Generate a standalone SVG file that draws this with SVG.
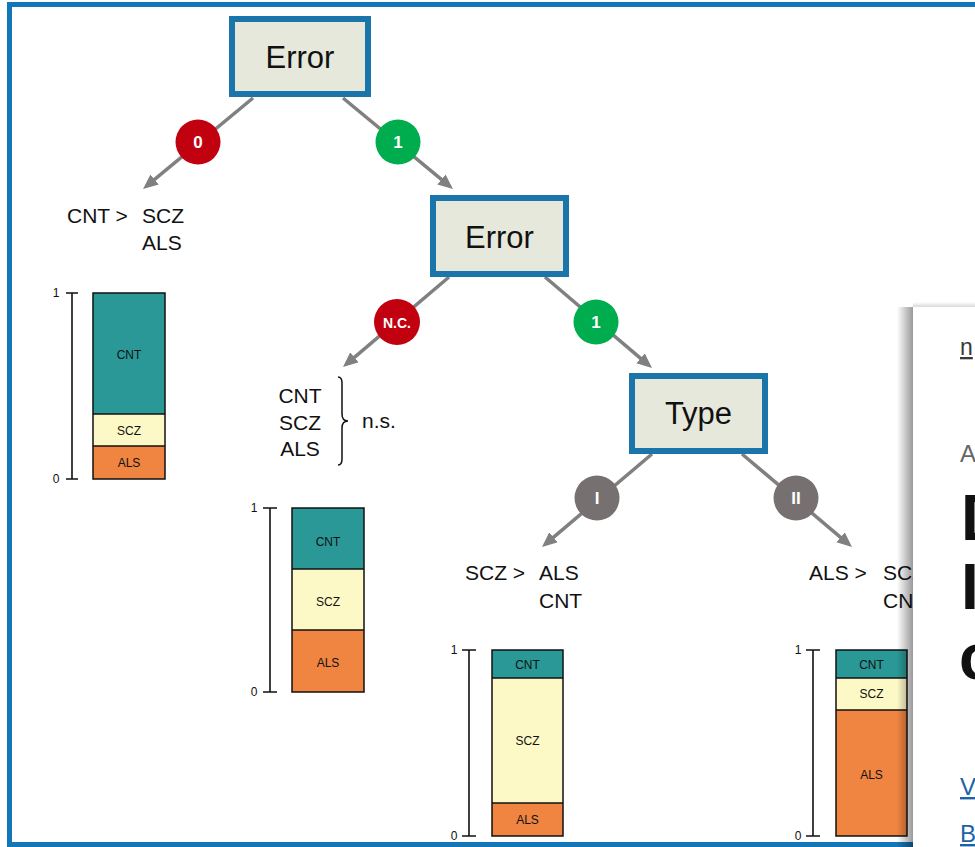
<svg xmlns="http://www.w3.org/2000/svg" width="975" height="847" viewBox="0 0 975 847">
<defs>
<marker id="arr" markerUnits="userSpaceOnUse" markerWidth="16" markerHeight="14" refX="7" refY="6.5" orient="auto">
<path d="M0,0 L15,6.5 L0,13 z" fill="#808080"/>
</marker>
<linearGradient id="shadow" x1="0" y1="0" x2="1" y2="0">
<stop offset="0" stop-color="#000" stop-opacity="0"/>
<stop offset="1" stop-color="#000" stop-opacity="0.4"/>
</linearGradient>
<linearGradient id="shadowTop" x1="0" y1="0" x2="0" y2="1">
<stop offset="0" stop-color="#000" stop-opacity="0"/>
<stop offset="1" stop-color="#000" stop-opacity="0.15"/>
</linearGradient>
</defs>
<style>
text{font-family:"Liberation Sans",Arial,sans-serif;}
.box{fill:#e6e8dc;stroke:#1a76aa;stroke-width:6;}
.boxt{font-size:31px;fill:#111;text-anchor:middle;}
.conn{stroke:#808080;stroke-width:3.5;fill:none;marker-end:url(#arr);}
.badge-t{font-size:17px;font-weight:bold;fill:#fff;text-anchor:middle;}
.leaf{font-size:21px;fill:#111;}
.seg{stroke:#111;stroke-width:1.5;}
.cnt{fill:#2a9896;}
.scz{fill:#fdf9c6;}
.als{fill:#f08441;}
.bl{font-size:12px;fill:#111;text-anchor:middle;}
.ax{stroke:#111;stroke-width:1.6;fill:none;}
.axl{font-size:12px;fill:#111;text-anchor:middle;}
</style>
<rect width="975" height="847" fill="#fff"/>
<rect x="9.5" y="4.5" width="990" height="840" fill="none" stroke="#1277b8" stroke-width="5"/>

<g id="connectors">
<line class="conn" x1="253" y1="98" x2="149.2" y2="183.9"/>
<line class="conn" x1="343" y1="98" x2="446.8" y2="183.9"/>
<line class="conn" x1="449" y1="277" x2="349.1" y2="361.8"/>
<line class="conn" x1="545" y1="277" x2="645.9" y2="362.8"/>
<line class="conn" x1="652" y1="454" x2="548.1" y2="541.8"/>
<line class="conn" x1="742" y1="454" x2="845.9" y2="541.8"/>
<g id="badge-0"><circle cx="198" cy="142" r="22.5" fill="#c10010"/><text class="badge-t" x="198" y="148">0</text></g>
<g id="badge-1a"><circle cx="398" cy="142" r="22.5" fill="#00ad4e"/><text class="badge-t" x="398" y="148">1</text></g>
<g id="badge-nc"><circle cx="397" cy="322" r="23" fill="#c10010"/><text class="badge-t" x="397" y="327.5" style="font-size:14px">N.C.</text></g>
<g id="badge-1b"><circle cx="596" cy="322" r="22.5" fill="#00ad4e"/><text class="badge-t" x="596" y="328">1</text></g>
<g id="badge-I"><circle cx="597" cy="498" r="22.5" fill="#767170"/><text class="badge-t" x="597" y="504">I</text></g>
<g id="badge-II"><circle cx="796" cy="498" r="22.5" fill="#767170"/><text class="badge-t" x="796" y="504">II</text></g>
</g>

<g id="node-error-root">
<rect class="box" x="232" y="19" width="136" height="75"/>
<text class="boxt" x="300" y="68">Error</text>
</g>
<g id="node-error-2">
<rect class="box" x="433" y="198" width="133" height="76"/>
<text class="boxt" x="499.5" y="248">Error</text>
</g>
<g id="node-type">
<rect class="box" x="632" y="376" width="133" height="75"/>
<text class="boxt" x="698.5" y="424">Type</text>
</g>

<g id="leaf-1">
<text class="leaf" x="67" y="223">CNT &gt;</text>
<text class="leaf" x="142" y="223">SCZ</text>
<text class="leaf" x="142" y="250">ALS</text>
</g>
<g id="chart-1">
<path class="ax" d="M72,293 V479 M66,293 H78 M66,479 H78"/>
<text class="axl" x="56" y="297">1</text>
<text class="axl" x="56" y="483">0</text>
<rect class="cnt" x="93" y="293" width="72" height="121"/>
<rect class="scz" x="93" y="414" width="72" height="32"/>
<rect class="als" x="93" y="446" width="72" height="33"/>
<path class="seg" d="M93,414 H165 M93,446 H165" />
<rect x="93" y="293" width="72" height="186" fill="none" stroke="#111" stroke-width="1.5"/>
<text class="bl" x="129" y="359">CNT</text>
<text class="bl" x="129" y="435">SCZ</text>
<text class="bl" x="129" y="467">ALS</text>
</g>

<g id="leaf-2">
<text class="leaf" x="300" y="403" text-anchor="middle">CNT</text>
<text class="leaf" x="300" y="430" text-anchor="middle">SCZ</text>
<text class="leaf" x="300" y="456" text-anchor="middle">ALS</text>
<path d="M338,377 Q342,377 342,383 L342,414 Q342,421 348,421 Q342,421 342,428 L342,459 Q342,465 338,465" fill="none" stroke="#111" stroke-width="1.5"/>
<text class="leaf" x="362" y="428">n.s.</text>
</g>
<g id="chart-2">
<path class="ax" d="M270,508 V692 M263,508 H277 M263,692 H277"/>
<text class="axl" x="254" y="512">1</text>
<text class="axl" x="254" y="696">0</text>
<rect class="cnt" x="292" y="508" width="72" height="61"/>
<rect class="scz" x="292" y="569" width="72" height="61"/>
<rect class="als" x="292" y="630" width="72" height="62"/>
<path class="seg" d="M292,569 H364 M292,630 H364"/>
<rect x="292" y="508" width="72" height="184" fill="none" stroke="#111" stroke-width="1.5"/>
<text class="bl" x="328" y="546">CNT</text>
<text class="bl" x="328" y="606">SCZ</text>
<text class="bl" x="328" y="667">ALS</text>
</g>

<g id="leaf-3">
<text class="leaf" x="465" y="580">SCZ &gt;</text>
<text class="leaf" x="539" y="580">ALS</text>
<text class="leaf" x="539" y="608">CNT</text>
</g>
<g id="chart-3">
<path class="ax" d="M469,650 V836 M462,650 H476 M462,836 H476"/>
<text class="axl" x="454" y="654">1</text>
<text class="axl" x="454" y="840">0</text>
<rect class="cnt" x="492" y="650" width="71" height="28"/>
<rect class="scz" x="492" y="678" width="71" height="125"/>
<rect class="als" x="492" y="803" width="71" height="33"/>
<path class="seg" d="M492,678 H563 M492,803 H563"/>
<rect x="492" y="650" width="71" height="186" fill="none" stroke="#111" stroke-width="1.5"/>
<text class="bl" x="527.5" y="669">CNT</text>
<text class="bl" x="527.5" y="745">SCZ</text>
<text class="bl" x="527.5" y="824">ALS</text>
</g>

<g id="leaf-4">
<text class="leaf" x="809" y="580">ALS &gt;</text>
<text class="leaf" x="883" y="580">SCZ</text>
<text class="leaf" x="883" y="608">CNT</text>
</g>
<g id="chart-4">
<path class="ax" d="M813,650 V836 M806,650 H820 M806,836 H820"/>
<text class="axl" x="798" y="654">1</text>
<text class="axl" x="798" y="840">0</text>
<rect class="cnt" x="836" y="650" width="71" height="28"/>
<rect class="scz" x="836" y="678" width="71" height="32"/>
<rect class="als" x="836" y="710" width="71" height="126"/>
<path class="seg" d="M836,678 H907 M836,710 H907"/>
<rect x="836" y="650" width="71" height="186" fill="none" stroke="#111" stroke-width="1.5"/>
<text class="bl" x="871.5" y="669">CNT</text>
<text class="bl" x="871.5" y="698">SCZ</text>
<text class="bl" x="871.5" y="779">ALS</text>
</g>

<g id="overlay-panel">
<rect x="897" y="307" width="16" height="540" fill="url(#shadow)"/>
<rect x="913" y="302" width="62" height="5" fill="url(#shadowTop)"/>
<rect x="913" y="307" width="62" height="540" fill="#fff"/>
<text x="960" y="355" style="font-size:23px;fill:#3a3a3a;text-decoration:underline">n</text>
<text x="960" y="462" style="font-size:24px;fill:#666">A</text>
<text x="961" y="540" style="font-size:64px;font-weight:bold;fill:#111">D</text>
<text x="961" y="609" style="font-size:64px;font-weight:bold;fill:#111">I</text>
<text x="959" y="679" style="font-size:64px;font-weight:bold;fill:#111">c</text>
<text x="960" y="795" style="font-size:24px;fill:#1b63a6;text-decoration:underline">V</text>
<text x="960" y="842" style="font-size:24px;fill:#1b63a6;text-decoration:underline">B</text>
</g>
</svg>
